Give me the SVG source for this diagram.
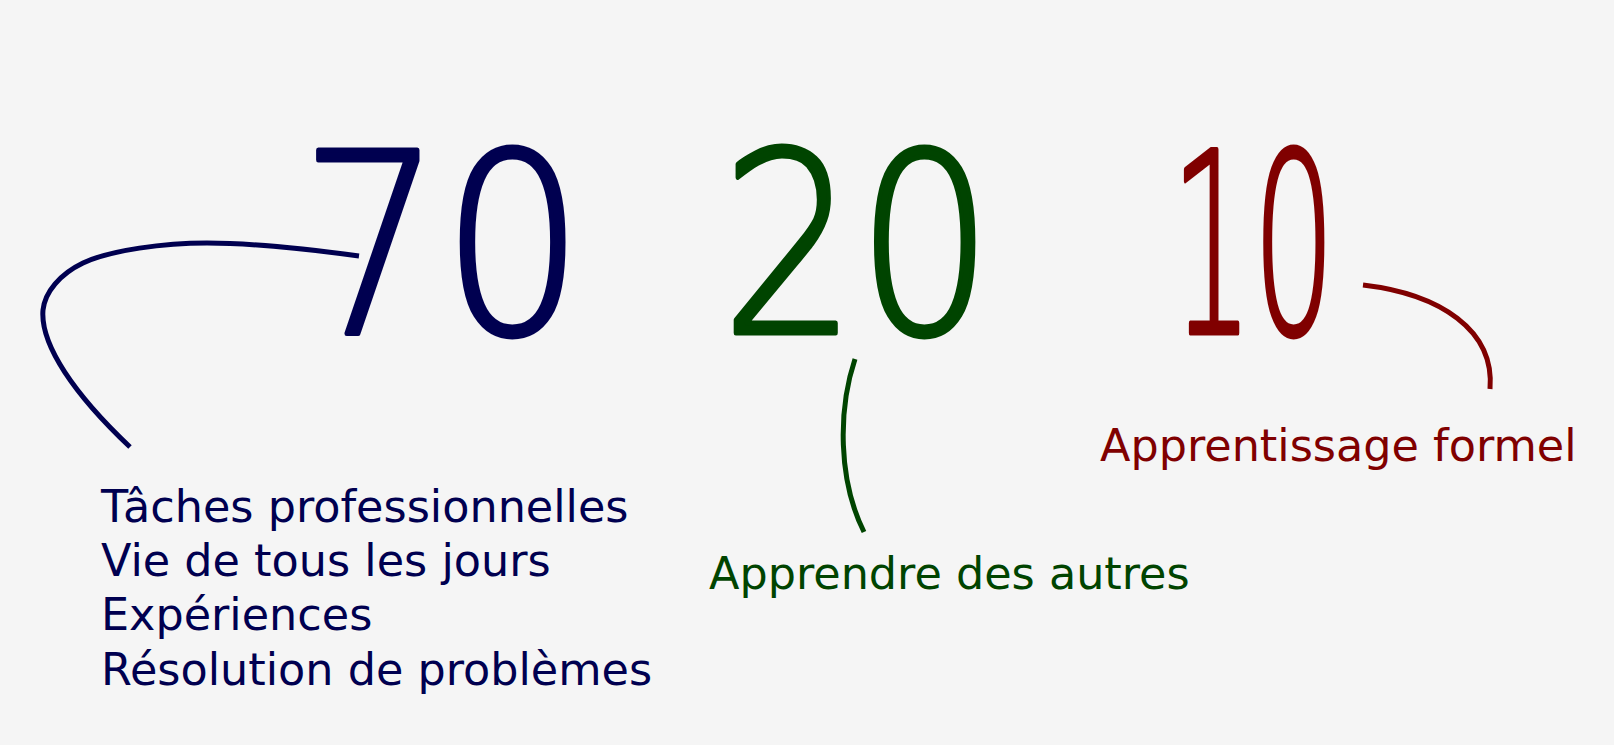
<svg xmlns="http://www.w3.org/2000/svg" width="1614" height="745" viewBox="0 0 1614 745">
<style>
.big{font-family:"DejaVu Sans",sans-serif;font-weight:200;font-size:252px;stroke-width:5;stroke-linejoin:round}
.lbl{font-family:"DejaVu Sans",sans-serif;font-size:44.5px}
.c{fill:none;stroke-width:5}
.navy{fill:#000050;stroke:#000050}.green{fill:#004400;stroke:#004400}.red{fill:#800000;stroke:#800000}
.lbl.navy,.lbl.green,.lbl.red{stroke:none}
</style>
<rect width="1614" height="745" fill="#f5f5f5"/>
<g id="connectors">
<path class="c" stroke="#000050" d="M359,256 C300,248 250,243 207,243 C165,243 110,250 83,263 C60,274 45,292 43,310 C40,345 75,395 130,447"/>
<path class="c" stroke="#004400" d="M855,359 C838,410 838,480 864,532"/>
<path class="c" stroke="#800000" d="M1363,285 C1440,294 1495,330 1490,389"/>
</g>
<g id="n70"><text class="big navy" x="300" y="333" textLength="284" lengthAdjust="spacingAndGlyphs">70</text></g>
<g id="n20"><text class="big green" x="721" y="333" textLength="272" lengthAdjust="spacingAndGlyphs">20</text></g>
<g id="n10"><text class="big red" x="1171" y="333" textLength="164" lengthAdjust="spacingAndGlyphs">10</text></g>
<g id="l70">
<text class="lbl navy" x="101" y="522">Tâches professionnelles</text>
<text class="lbl navy" x="101" y="576">Vie de tous les jours</text>
<text class="lbl navy" x="101" y="630">Expériences</text>
<text class="lbl navy" x="101" y="685">Résolution de problèmes</text>
</g>
<g id="l20"><text class="lbl green" x="709" y="589">Apprendre des autres</text></g>
<g id="l10"><text class="lbl red" x="1100" y="461">Apprentissage formel</text></g>
</svg>
